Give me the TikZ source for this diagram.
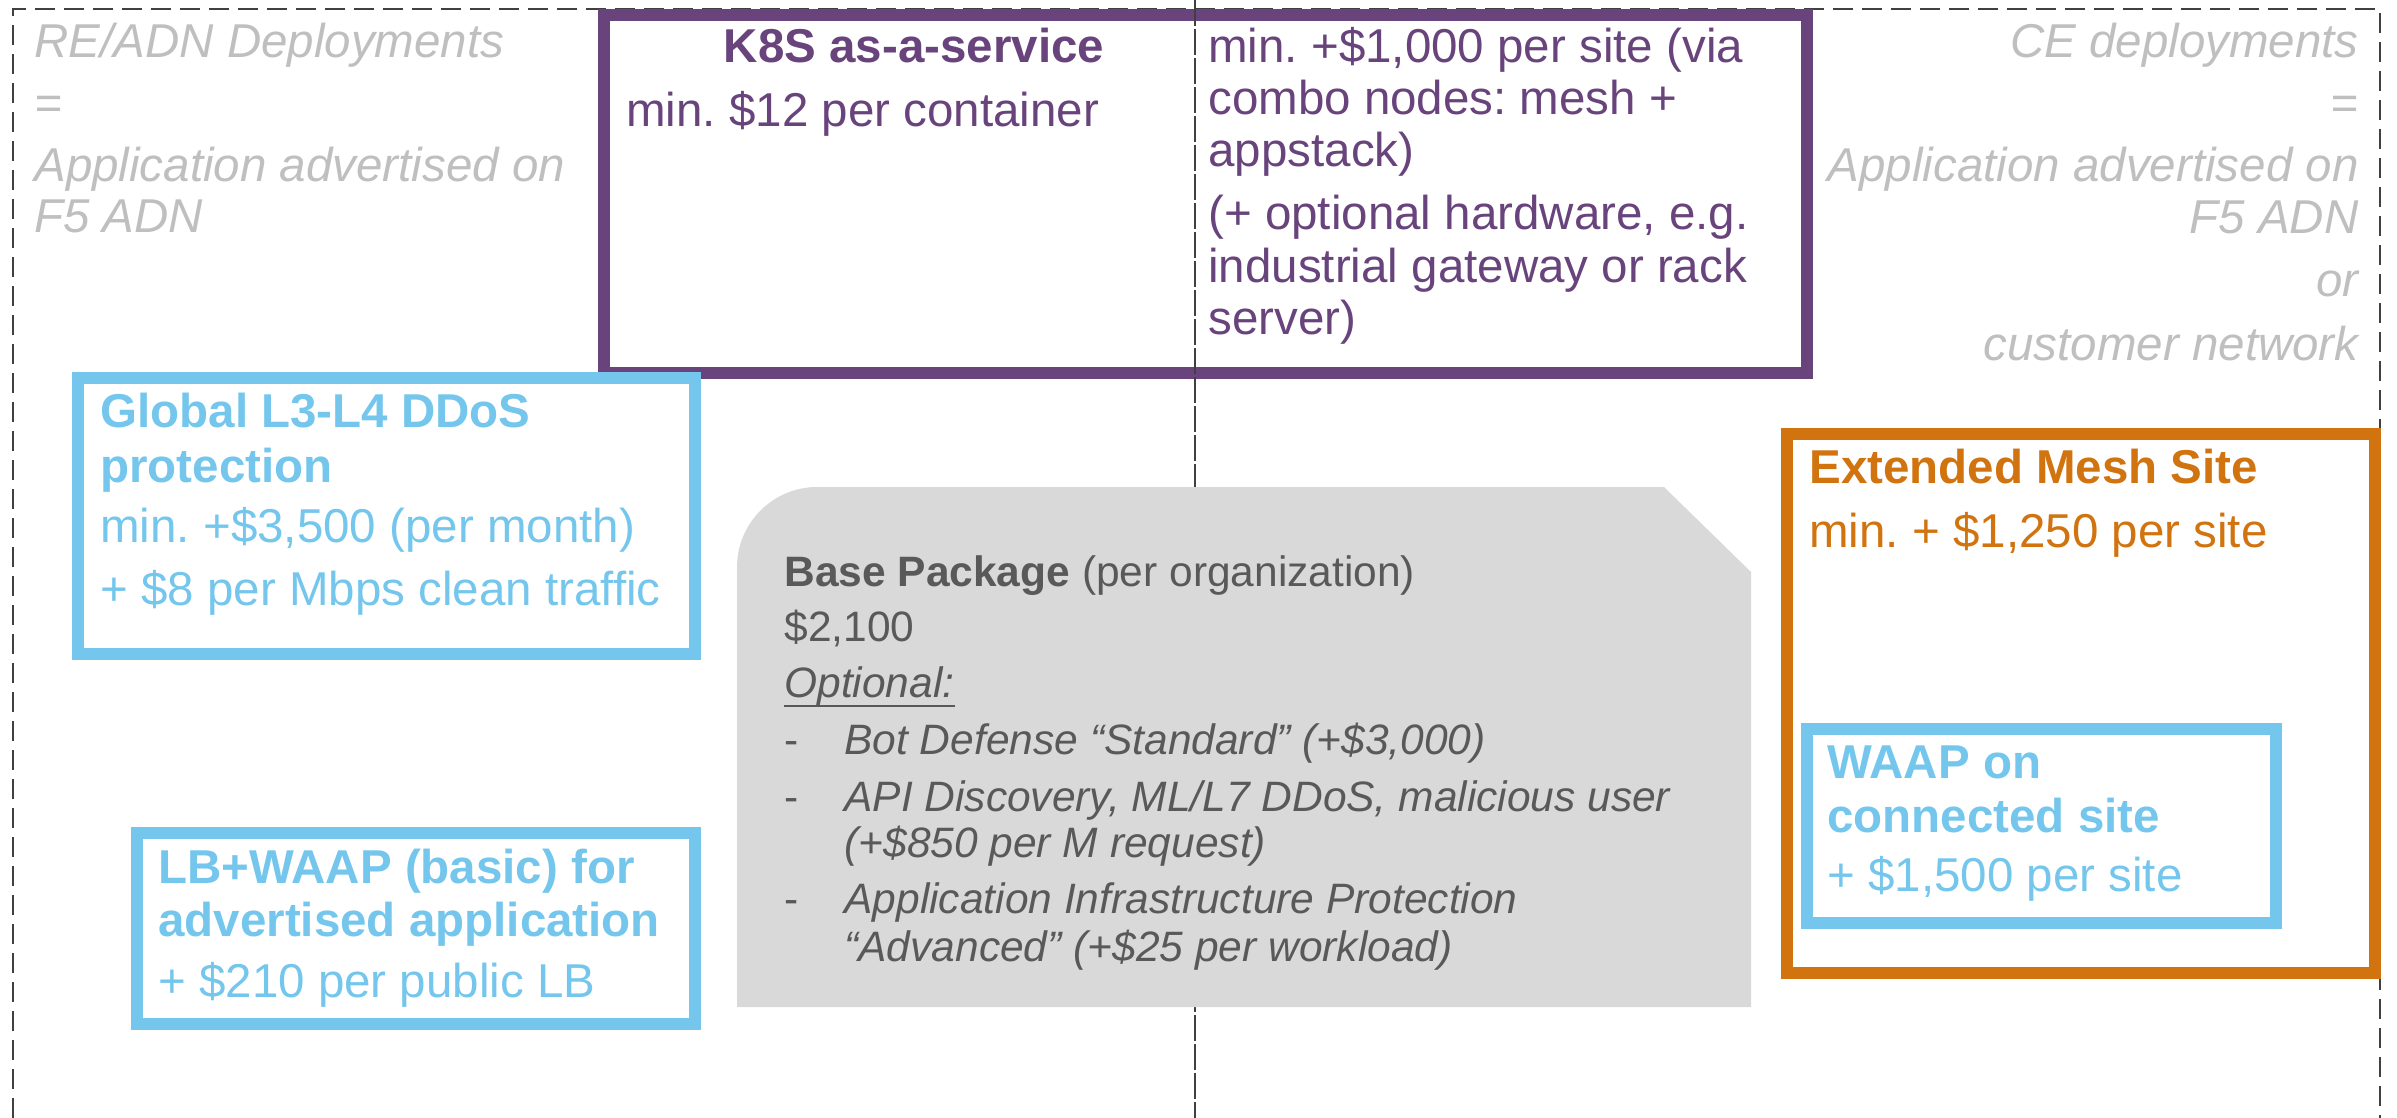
\documentclass[tikz,border=0pt]{standalone}
\usepackage{fontspec}
\setmainfont{Liberation Sans}
\frenchspacing
\definecolor{framegray}{RGB}{64,64,64}
\definecolor{purp}{RGB}{104,67,124}
\definecolor{skyb}{RGB}{116,198,236}
\definecolor{orng}{RGB}{209,115,15}
\definecolor{ltxt}{RGB}{191,191,191}
\definecolor{boxfill}{RGB}{217,217,217}
\definecolor{boxtxt}{RGB}{89,89,89}
\newcommand\fbig{\fontsize{23.75pt}{28pt}\selectfont}
\newcommand\fsml{\fontsize{21.25pt}{25pt}\selectfont}
\begin{document}
\begin{tikzpicture}[x=0.5pt,y=-0.5pt,
  frame/.style={draw=framegray, line width=1.25pt, dash pattern=on 10pt off 4.5pt},
  midline/.style={draw=framegray, line width=1pt, dash pattern=on 13pt off 1.5pt},
  boxline/.style={line width=6pt},
  tl/.style={inner sep=0pt, anchor=base west, font=\fbig},
  trt/.style={inner sep=0pt, anchor=base east, font=\fbig\itshape, text=ltxt},
  ts/.style={inner sep=0pt, anchor=base west, font=\fsml, text=boxtxt}]
\useasboundingbox (0,0) rectangle (2397,1118);
% outer dashed frame
\draw[frame] (13,1118) coordinate (fbl) -- (13,9) coordinate (ftl) -- (2380,9) coordinate (ftr) -- (2380,1118) coordinate (fbr);
% K8S box
\draw[boxline, draw=purp] (604,15) coordinate (ka) rectangle (1807,373) coordinate (kb);
% center line
\draw[midline] (1195,0) coordinate (mt) -- (1195,1118) coordinate (mb);
% base package shape
\fill[boxfill] (737,1007) coordinate (ga) -- (737,567) .. controls (737,523) and (773,487) .. (817,487)
  -- (1664,487) -- (1751,572) -- (1751,1007) coordinate (gb) -- cycle;
% blue boxes
\draw[boxline, draw=skyb] (78,378) coordinate (b1a) rectangle (695,654) coordinate (b1b);
\draw[boxline, draw=skyb] (137,833) coordinate (b2a) rectangle (695,1024) coordinate (b2b);
% orange box
\draw[boxline, draw=orng] (1787,434) coordinate (oa) rectangle (2375,973) coordinate (ob);
\draw[boxline, draw=skyb] (1807,729) coordinate (wa) rectangle (2276,923) coordinate (wb);

% left description
\node[tl, font=\fbig\itshape, text=ltxt] (l1) at (34,58) {RE/ADN Deployments};
\node[tl, font=\fbig\itshape, text=ltxt] (l2) at (34,120) {=};
\node[tl, font=\fbig\itshape, text=ltxt] (l3) at (34,182) {Application advertised on};
\node[tl, font=\fbig\itshape, text=ltxt] (l4) at (34,233) {F5 ADN};
% right description
\node[trt] (r1) at (2359,58) {CE deployments};
\node[trt] (r2) at (2359,120) {=};
\node[trt] (r3) at (2359,182) {Application advertised on};
\node[trt] (r4) at (2359,234) {F5 ADN};
\node[trt] (r5) at (2359,296) {or};
\node[trt] (r6) at (2359,360) {customer network};

% K8S texts
\node[inner sep=0pt, anchor=base, font=\fbig\bfseries, text=purp] (k1) at (914,63) {K8S as-a-service};
\node[tl, text=purp] (k2) at (626,127) {min. \$12 per container};
\node[tl, text=purp] (k3) at (1208,63) {min. +\$1,000 per site (via};
\node[tl, text=purp] (k4) at (1208,115) {combo nodes: mesh +};
\node[tl, text=purp] (k5) at (1208,167) {appstack)};
\node[tl, text=purp] (k6) at (1208,230) {(+ optional hardware, e.g.};
\node[tl, text=purp] (k7) at (1208,282) {industrial gateway or rack};
\node[tl, text=purp] (k8) at (1208,334) {server)};

% DDoS box
\node[tl, font=\fbig\bfseries, text=skyb] (d1) at (100,427) {Global L3-L4 DDoS};
\node[tl, font=\fbig\bfseries, text=skyb] (d2) at (100,482) {protection};
\node[tl, text=skyb] (d3) at (100,542) {min. +\$3,500 (per month)};
\node[tl, text=skyb] (d4) at (100,605) {+ \$8 per Mbps clean traffic};

% LB box
\node[tl, font=\fbig\bfseries, text=skyb] (e1) at (158,883) {LB+WAAP (basic) for};
\node[tl, font=\fbig\bfseries, text=skyb] (e2) at (158,936) {advertised application};
\node[tl, text=skyb] (e3) at (158,997) {+ \$210 per public LB};

% Extended mesh
\node[tl, font=\fbig\bfseries, text=orng] (m1) at (1809,483) {Extended Mesh Site};
\node[tl, text=orng] (m2) at (1809,547) {min. + \$1,250 per site};
% WAAP
\node[tl, font=\fbig\bfseries, text=skyb] (w1) at (1827,778) {WAAP on};
\node[tl, font=\fbig\bfseries, text=skyb] (w2) at (1827,832) {connected site};
\node[tl, text=skyb] (w3) at (1827,891) {+ \$1,500 per site};

% Base package
\node[ts] (p1) at (784,586) {\textbf{Base Package} (per organization)};
\node[ts] (p2) at (784,641) {\$2,100};
\node[ts, font=\fsml\itshape] (p3) at (784,697) {Optional:};
\draw[boxtxt, line width=1.3pt] ([yshift=-4.5pt]p3.base west) -- ([yshift=-4.5pt]p3.base east);
\node[ts] (p4a) at (784,754) {-};
\node[ts, font=\fsml\itshape] (p4) at (844,754) {Bot Defense “Standard” (+\$3,000)};
\node[ts] (p5a) at (784,811) {-};
\node[ts, font=\fsml\itshape] (p5) at (844,811) {API Discovery, ML/L7 DDoS, malicious user};
\node[ts, font=\fsml\itshape] (p6) at (844,857) {(+\$850 per M request)};
\node[ts] (p7a) at (784,913) {-};
\node[ts, font=\fsml\itshape] (p7) at (844,913) {Application Infrastructure Protection};
\node[ts, font=\fsml\itshape] (p8) at (844,961) {“Advanced” (+\$25 per workload)};
\end{tikzpicture}
\end{document}
